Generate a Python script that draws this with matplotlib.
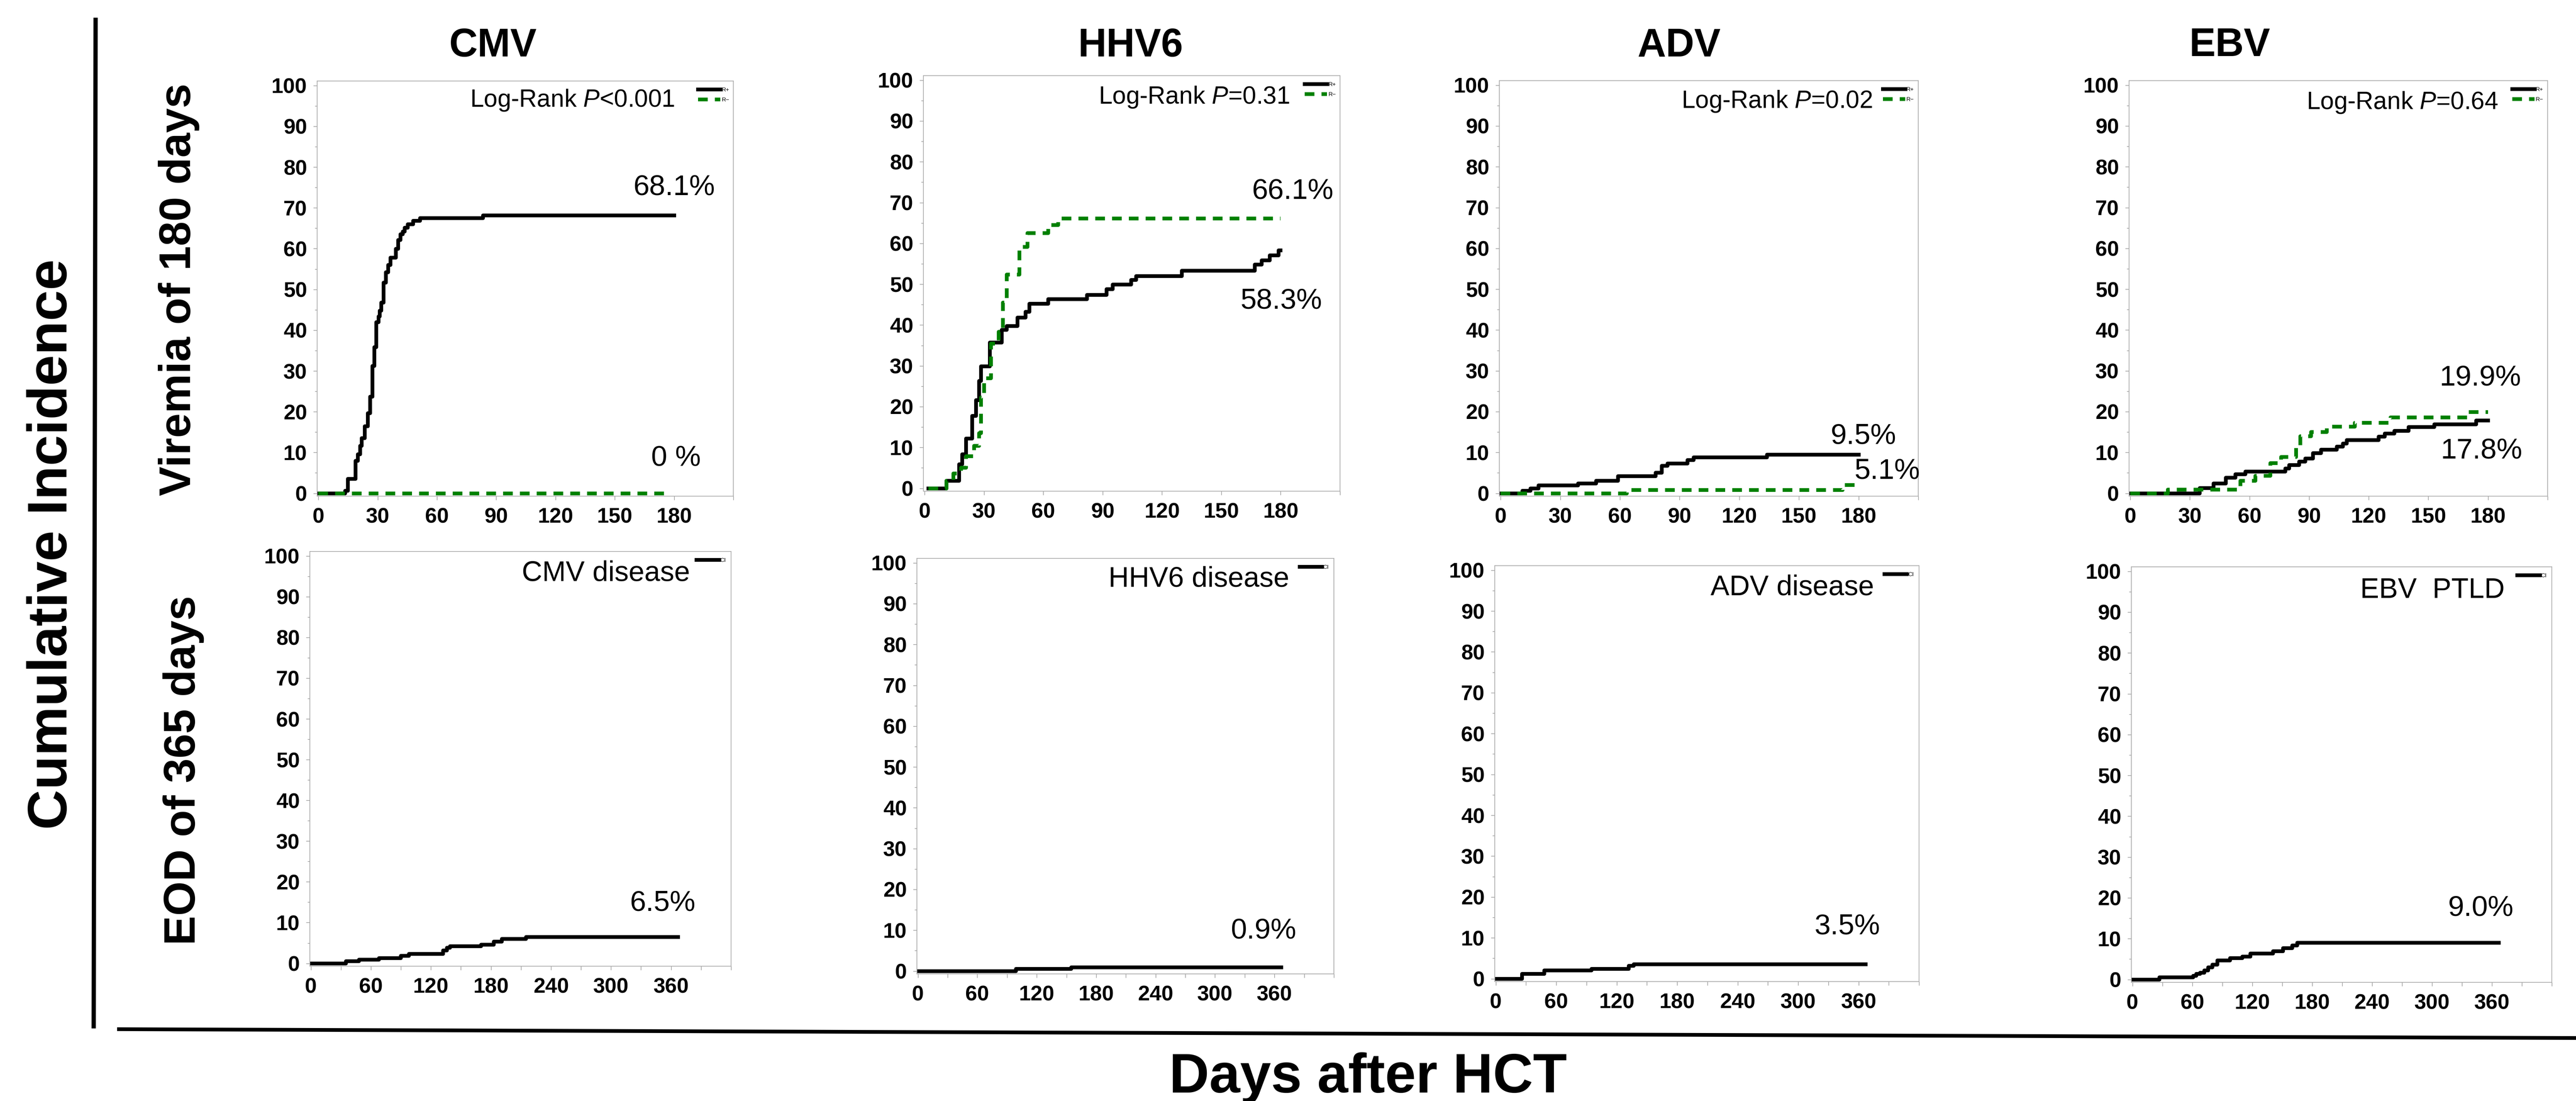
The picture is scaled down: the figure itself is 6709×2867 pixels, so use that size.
#!/usr/bin/env python3
# viral reactivation panel: viremia (top row) and end-organ disease (bottom row)
# cumulative incidence curves for CMV / HHV6 / ADV / EBV.

import matplotlib
matplotlib.use("Agg")
import matplotlib.pyplot as plt
from matplotlib.lines import Line2D
from matplotlib.ticker import MultipleLocator

plt.rcParams["font.family"] = ["Liberation Sans", "DejaVu Sans"]
plt.rcParams["mathtext.fontset"] = "custom"
plt.rcParams["mathtext.rm"] = "Liberation Sans"
plt.rcParams["mathtext.it"] = "Liberation Sans:italic"

# ---- data (days, % cumulative incidence) ----
VIRUSES = ["CMV", "HHV6", "ADV", "EBV"]

CMV_V_RP_T = [0, 13.5, 15, 18.9, 20, 21.2, 22, 23.5, 25, 26.2, 27.3, 28.4, 29.3,
              30.4, 31.1, 31.9, 33.1, 34.2, 35.3, 36.5, 39.3, 40.4, 41.6, 42.7,
              43.7, 45.3, 48, 51.4, 83.3, 180]
CMV_V_RP = [0, 0.6, 3.5, 8, 9.6, 11.6, 13.5, 16.4, 19.6, 23.7, 31.2, 35.8, 42,
            43.4, 44.8, 46.8, 51.7, 54.2, 56, 57.8, 59.9, 62.1, 63.5, 64.2,
            65.1, 66.0, 66.8, 67.5, 68.1, 68.1]
CMV_V_RM_T = [0, 177.7]
CMV_V_RM = [0, 0]

HHV6_V_RP_T = [2, 11, 17.5, 19, 21, 24, 26, 27.5, 28.5, 33, 39, 41.5, 47, 51, 53,
               62.5, 82, 92, 95, 104.5, 107, 130, 167, 170.5, 174.5, 179, 180]
HHV6_V_RP = [0, 1.8, 5.9, 8.3, 12.2, 17.7, 21.6, 26.3, 29.9, 35.7, 38.8, 39.8,
             41.8, 43.2, 45.2, 46.3, 47.4, 48.8, 49.9, 51.0, 52.0, 53.3, 54.8,
             55.8, 57.1, 58.3, 58.3]
HHV6_V_RM_T = [2, 11, 14.5, 18.5, 21, 25, 27.5, 28.5, 30, 33.5, 37.5, 39.5, 41.5,
               48, 52, 62.5, 67.5, 180]
HHV6_V_RM = [0, 1.8, 3.6, 5.0, 7.9, 10.4, 13.5, 22.3, 27.0, 35.4, 38.3, 45.5,
             52.4, 59.1, 62.5, 64.5, 66.1, 66.1]

ADV_V_RP_T = [0, 11, 15, 19, 39, 48, 59, 78, 81, 84, 94, 97, 134, 180]
ADV_V_RP = [0, 0.6, 1.2, 1.9, 2.4, 3.1, 4.2, 5.0, 6.7, 7.3, 8.1, 8.8, 9.5, 9.5]
ADV_V_RM_T = [0, 63.5, 172, 180]
ADV_V_RM = [0, 0.8, 2.0, 2.0]

EBV_V_RP_T = [0, 35, 42, 48, 53, 58, 78, 80, 85, 88, 92, 96, 104, 107, 109, 125,
              128, 133, 140, 153, 174, 180]
EBV_V_RP = [0, 1.3, 2.4, 3.8, 4.7, 5.3, 6.1, 6.9, 7.8, 8.5, 9.8, 10.7, 11.4, 12.2,
            13.0, 13.9, 14.6, 15.3, 16.2, 16.9, 17.8, 17.8]
EBV_V_RM_T = [0, 19, 55.5, 63, 70.5, 76, 83.5, 85.5, 91, 99, 113, 131, 170, 180]
EBV_V_RM = [0, 0.9, 3.1, 4.3, 7.4, 8.9, 11.7, 14.0, 15.0, 16.3, 17.3, 18.6, 19.9,
            19.9]

CMV_D_T = [0, 35, 48, 68, 90, 98, 132, 136, 139, 170, 183, 191, 215, 367]
CMV_D = [0, 0.5, 0.9, 1.3, 1.8, 2.3, 3.2, 3.8, 4.2, 4.6, 5.3, 6.0, 6.5, 6.5]
HHV6_D_T = [0, 99, 155, 367]
HHV6_D = [0, 0.5, 0.9, 0.9]
ADV_D_T = [0, 26, 48, 95, 132, 137, 367]
ADV_D = [0, 1.2, 2.0, 2.4, 3.2, 3.5, 3.5]
EBV_D_T = [0, 27, 61, 64, 68, 72, 76, 80, 85, 98, 110, 118, 141, 151, 160, 165, 367]
EBV_D = [0, 0.5, 0.9, 1.35, 1.65, 2.25, 3.0, 3.6, 4.65, 5.25, 5.6, 6.4, 6.9, 7.7,
         8.3, 9.0, 9.0]

PVALUES = ["<0.001", "=0.31", "=0.02", "=0.64"]
DISEASE_LABELS = ["CMV disease", "HHV6 disease", "ADV disease", "EBV  PTLD"]
RP_LABELS = ["68.1%", "58.3%", "9.5%", "17.8%"]
RM_LABELS = ["0 %", "66.1%", "5.1%", "19.9%"]
DIS_LABELS = ["6.5%", "0.9%", "3.5%", "9.0%"]

TOP_XTICKS = [0, 30, 60, 90, 120, 150, 180, 210]
TOP_XLABELS = ["0", "30", "60", "90", "120", "150", "180", ""]
BOT_XTICKS = [0, 30, 60, 90, 120, 150, 180, 210, 240, 270, 300, 330, 360, 390, 420]
BOT_XLABELS = ["0", "", "60", "", "120", "", "180", "", "240", "", "300", "",
               "360", "", ""]
YTICKS = [0, 10, 20, 30, 40, 50, 60, 70, 80, 90, 100]

# ---- layout (pixel boxes in the 6709x2867 canvas) ----
W, H = 6709, 2867
TOP_BOXES = [(826, 211, 1910, 1292), (2405, 197, 3490, 1279),
             (3905, 210, 4996, 1292), (5545, 210, 6635, 1292)]
BOT_BOXES = [(807, 1436, 1904, 2516), (2388, 1454, 3474, 2536),
             (3893, 1473, 4998, 2556), (5551, 1476, 6646, 2558)]
# label positions in data coords
PV_POS = [(180.3, 96.4), (184.5, 95.8), (187, 96.0), (185, 95.7)]
RP_POS = [(180, 75), (180.4, 45.9), (182.3, 14.0), (176.7, 10.4)]
RM_POS = [(181, 8.6), (186, 72.8), (194.4, 5.4), (176.1, 28.3)]
DL_POS = [(379, 95.7), (374.8, 96.0), (375.3, 95.7), (372.7, 95.3)]
DP_POS = [(351.5, 14.8), (349, 9.8), (348.6, 12.7), (348.8, 17.5)]
TITLE_X = [1284, 2944, 4373, 5807]

LW = 7
GREEN = "#008000"
FRAME = "#a8a8a8"
TICKC = "#8c8c8c"

fig = plt.figure(figsize=(W / 100, H / 100), dpi=100)


def add_box(l, t, r, b):
    return fig.add_axes([l / W, 1 - b / H, (r - l) / W, (b - t) / H])


def style(ax, xlim, xticks, xlabels):
    ax.set_xlim(*xlim)
    ax.set_ylim(-0.7, 101.1)
    ax.set_xticks(xticks)
    ax.set_xticklabels(xlabels)
    ax.set_yticks(YTICKS)
    ax.yaxis.set_minor_locator(MultipleLocator(5))
    for s in ax.spines.values():
        s.set_color(FRAME)
        s.set_linewidth(1.3)
    ax.tick_params(axis="both", which="major", direction="out", length=7,
                   width=1.0, color=TICKC, labelsize=40)
    ax.tick_params(axis="y", which="minor", direction="out", length=4,
                   width=1.0, color=TICKC)
    ax.tick_params(axis="y", pad=12)
    ax.tick_params(axis="x", pad=14)
    for lab in ax.get_xticklabels() + ax.get_yticklabels():
        lab.set_fontweight("bold")


top_data = [
    (CMV_V_RP_T, CMV_V_RP, CMV_V_RM_T, CMV_V_RM),
    (HHV6_V_RP_T, HHV6_V_RP, HHV6_V_RM_T, HHV6_V_RM),
    (ADV_V_RP_T, ADV_V_RP, ADV_V_RM_T, ADV_V_RM),
    (EBV_V_RP_T, EBV_V_RP, EBV_V_RM_T, EBV_V_RM),
]
bot_data = [(CMV_D_T, CMV_D), (HHV6_D_T, HHV6_D), (ADV_D_T, ADV_D), (EBV_D_T, EBV_D)]

for i, virus in enumerate(VIRUSES):
    # viremia within 180 days, R+ vs R-
    ax = add_box(*TOP_BOXES[i])
    tp, vp, tm, vm = top_data[i]
    lp, = ax.step(tp, vp, where="post", color="black", lw=LW)
    lm, = ax.step(tm, vm, where="post", color=GREEN, lw=LW, dashes=[2.6, 1.9],
                  dash_capstyle="butt")
    style(ax, (-0.6, 209), TOP_XTICKS, TOP_XLABELS)
    ax.text(*PV_POS[i], "Log-Rank $P$" + PVALUES[i], ha="right", va="center",
            fontsize=46)
    ax.text(*RP_POS[i], RP_LABELS[i], ha="center", va="center", fontsize=54)
    ax.text(*RM_POS[i], RM_LABELS[i], ha="center", va="center", fontsize=54)
    ax.legend([lp, lm], ["R+", "R\u2212"], loc="upper right",
              bbox_to_anchor=(0.99, 0.985), fontsize=11, frameon=False,
              handlelength=3.8, handletextpad=0.2, labelspacing=0.8,
              borderpad=0, borderaxespad=0)
    fig.text(TITLE_X[i] / W, 1 - 120 / H, virus, ha="center", va="center",
             fontsize=74, fontweight="bold")

    # end-organ disease within 365 days
    ax = add_box(*BOT_BOXES[i])
    td, vd = bot_data[i]
    ld, = ax.step(td, vd, where="post", color="black", lw=LW)
    style(ax, (-1, 420), BOT_XTICKS, BOT_XLABELS)
    ax.text(*DL_POS[i], DISEASE_LABELS[i], ha="right", va="center", fontsize=53)
    ax.text(*DP_POS[i], DIS_LABELS[i], ha="center", va="center", fontsize=54)
    ax.legend([ld], ["CI"], loc="upper right", bbox_to_anchor=(0.988, 0.985),
              fontsize=11, frameon=False, handlelength=3.8, handletextpad=0.2,
              borderpad=0, borderaxespad=0)

# row / axis labels and the framing rules
fig.text(466 / W, 1 - 754 / H, "Viremia of 180 days", rotation=90, ha="center",
         va="center", fontsize=83, fontweight="bold")
fig.text(478 / W, 1 - 2006 / H, "EOD of 365 days", rotation=90, ha="center",
         va="center", fontsize=83, fontweight="bold")
fig.text(136 / W, 1 - 1417 / H, "Cumulative Incidence", rotation=90, ha="center",
         va="center", fontsize=104, fontweight="bold")
fig.text(3563 / W, 1 - 2845 / H, "Days after HCT", ha="center", va="baseline",
         fontsize=104, fontweight="bold")

fig.add_artist(Line2D([249 / W, 244 / W], [1 - 46 / H, 1 - 2678 / H],
                      lw=8, color="black", solid_capstyle="butt"))
fig.add_artist(Line2D([305 / W, 1.0], [1 - 2680 / H, 1 - 2703 / H],
                      lw=7, color="black", solid_capstyle="butt"))

fig.savefig("out.png", dpi=100)
